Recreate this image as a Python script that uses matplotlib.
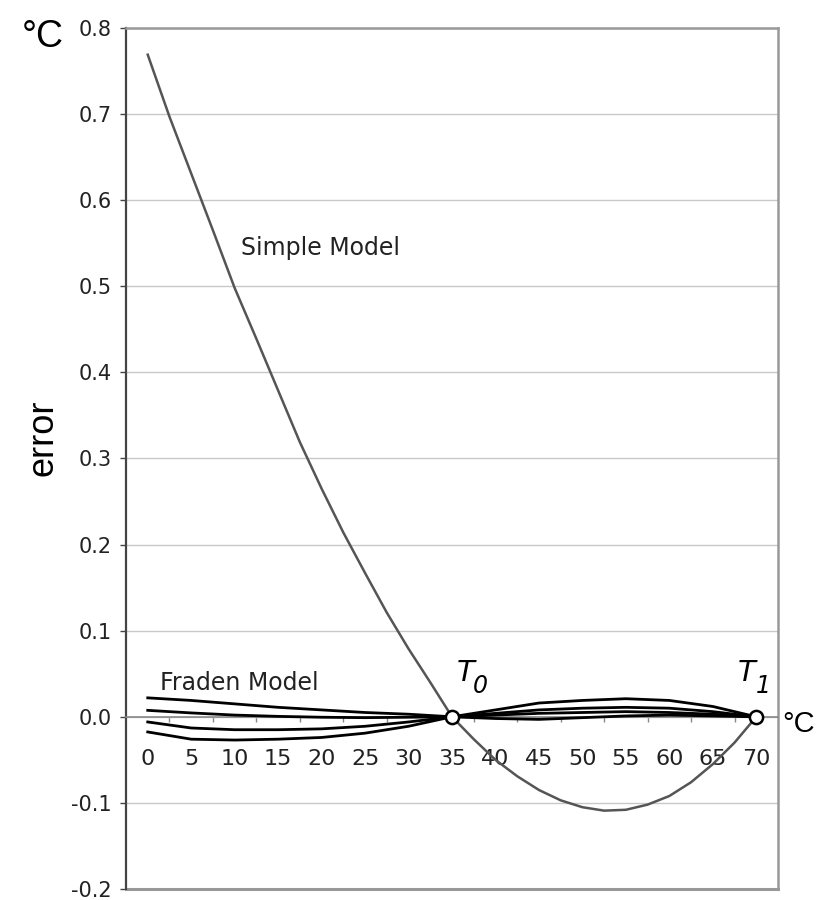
import numpy as np
import matplotlib.pyplot as plt

# temperature categories (degC)
temps = [0, 5, 10, 15, 20, 25, 30, 35, 40, 45, 50, 55, 60, 65, 70]
tick_labels = [str(t) for t in temps]

# simple model error, read at 2.5 degC steps
simple_t = [0, 2.5, 5, 7.5, 10, 12.5, 15, 17.5, 20, 22.5, 25, 27.5, 30, 32.5, 35,
            37.5, 40, 42.5, 45, 47.5, 50, 52.5, 55, 57.5, 60, 62.5, 65, 67.5, 70]
simple_err = [0.769, 0.697, 0.631, 0.565, 0.498, 0.439, 0.379, 0.319, 0.265, 0.214,
              0.167, 0.121, 0.079, 0.040, 0.0, -0.026, -0.050, -0.069, -0.085,
              -0.097, -0.105, -0.109, -0.108, -0.102, -0.092, -0.076, -0.055,
              -0.030, 0.0]

# Fraden model error curves
fraden_1 = [0.022, 0.019, 0.015, 0.011, 0.008, 0.005, 0.003, 0.0,
            0.008, 0.016, 0.019, 0.021, 0.019, 0.012, 0.0]
fraden_2 = [0.0075, 0.0045, 0.002, 0.0005, -0.0005, -0.001, -0.0005, 0.0,
            0.004, 0.008, 0.010, 0.011, 0.010, 0.006, 0.0]
fraden_3 = [-0.006, -0.013, -0.015, -0.015, -0.014, -0.011, -0.006, 0.0,
            0.002, 0.004, 0.005, 0.006, 0.005, 0.003, 0.0]
fraden_4 = [-0.0176, -0.026, -0.027, -0.026, -0.024, -0.019, -0.011, 0.0,
            -0.002, -0.003, -0.001, 0.001, 0.002, 0.001, 0.0]

ref_t = [35, 70]
ref_err = [0, 0]

fig = plt.figure(figsize=(8.18, 9), dpi=100)
ax = fig.add_axes([126 / 818, 1 - 889 / 900, 652 / 818, 861 / 900])

ax.set_xlim(-2.5, 72.5)
ax.set_ylim(-0.2, 0.8)

# gridlines and frame
ax.grid(axis='y', color='#c8c8c8', lw=1, zorder=0)
ax.set_axisbelow(True)
ax.spines['left'].set_color('#444444')
ax.spines['left'].set_linewidth(1.6)
for s in ['top', 'right']:
    ax.spines[s].set_color('#999999')
    ax.spines[s].set_linewidth(1.8)
ax.spines['bottom'].set_position(('data', 0))
ax.spines['bottom'].set_color('#888888')
ax.spines['bottom'].set_linewidth(1.2)
ax.axhline(-0.2, color='#999999', lw=2.2, clip_on=False)

# y ticks
yt = np.round(np.arange(-0.2, 0.81, 0.1), 1)
ax.set_yticks(yt)
ax.set_yticklabels(['%.1f' % v for v in yt])
ax.tick_params(axis='y', direction='out', length=4.5, width=1, color='#444444',
               labelsize=15, pad=6, labelcolor='#222222')

# x ticks between categories, labels on categories
ax.set_xticks(np.arange(2.5, 70, 5))
ax.set_xticklabels([])
ax.tick_params(axis='x', which='major', direction='out', length=3.5, width=1,
               color='#888888')
ax.set_xticks(temps, minor=True)
ax.set_xticklabels(tick_labels, minor=True)
ax.tick_params(axis='x', which='minor', length=0, pad=23, labelsize=16,
               labelcolor='#222222')

# curves
for f in [fraden_1, fraden_2, fraden_3, fraden_4]:
    ax.plot(temps, f, color='black', lw=2.0, zorder=3)
ax.plot(simple_t, simple_err, color='#555555', lw=1.8, zorder=4)
ax.plot(ref_t, ref_err, 'o', mfc='white', mec='black', ms=9.5, mew=1.8,
        zorder=6, clip_on=False)

# annotations
ax.text(10.73, 0.536, 'Simple Model', fontsize=17, va='baseline', color='#222222')
ax.text(1.4, 0.031, 'Fraden Model', fontsize=17, va='baseline', color='#222222')
ax.text(35.5, 0.041, 'T', fontsize=21, style='italic', va='baseline')
ax.text(37.4, 0.028, '0', fontsize=17, style='italic', va='baseline')
ax.text(67.9, 0.041, 'T', fontsize=21, style='italic', va='baseline')
ax.text(70.0, 0.028, '1', fontsize=17, style='italic', va='baseline')

fig.text(22 / 818, 1 - 47 / 900, '°C', fontsize=27, family='Liberation Sans',
         va='baseline')
fig.text(782 / 818, 1 - 732 / 900, '°C', fontsize=21, family='Liberation Sans',
         va='baseline')
fig.text(43 / 818, 1 - 438 / 900, 'error', fontsize=26, family='Liberation Sans',
         rotation=90, ha='center', va='center')

fig.savefig('out.png', dpi=100)
